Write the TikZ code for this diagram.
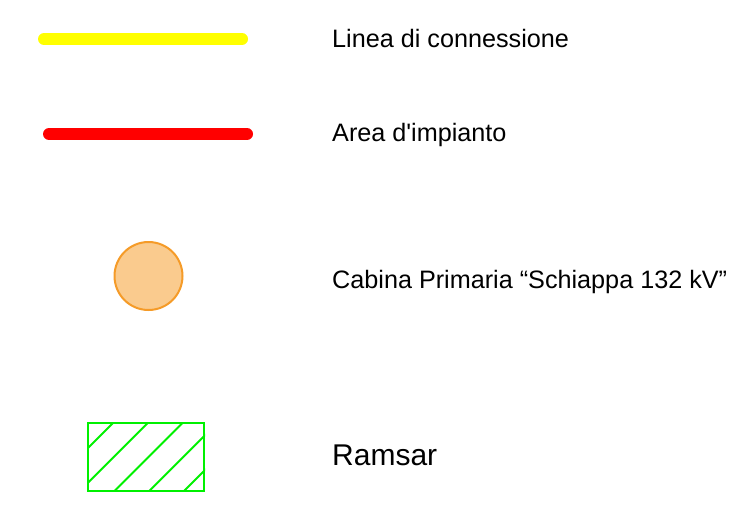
\documentclass[tikz,border=0pt]{standalone}
\usepackage{fontspec}
\setmainfont{Liberation Sans}
\newfontfamily\plainsans{Liberation Sans}
\definecolor{lineyellow}{RGB}{255,255,0}
\definecolor{areared}{RGB}{255,0,0}
\definecolor{cabfill}{RGB}{250,203,142}
\definecolor{cabdraw}{RGB}{245,155,40}
\definecolor{ramgreen}{RGB}{0,240,0}
\tikzset{
  legtext/.style={anchor=base west, inner sep=0pt, font=\plainsans\fontsize{25.2}{30}\selectfont},
  bigtext/.style={anchor=base west, inner sep=0pt, font=\plainsans\fontsize{30}{36}\selectfont},
  legline/.style={line width=12pt, line cap=round},
}
\begin{document}
\begin{tikzpicture}[x=1pt,y=-1pt]
\useasboundingbox (0,0) rectangle (741,509);
% yellow line
\coordinate (y1) at (44,39);
\coordinate (y2) at (242,39);
\draw[legline, lineyellow] (y1) -- (y2);
\node[legtext] (tyellow) at (332,47) {Linea di connessione};
% red line
\coordinate (r1) at (49,134);
\coordinate (r2) at (247,134);
\draw[legline, areared] (r1) -- (r2);
\node[legtext] (tred) at (332,141.5) {Area d'impianto};
% circle
\node[circle, minimum size=68pt, inner sep=0pt, fill=cabfill, draw=cabdraw, line width=2pt] (cab) at (148.5,276) {};
\node[legtext] (tcab) at (332,288) {Cabina Primaria “Schiappa 132 kV”};
% ramsar
\node[rectangle, minimum width=116pt, minimum height=68pt, inner sep=0pt, draw=ramgreen, line width=2pt] (ram) at (146,457) {};
\begin{scope}
\clip (ram.south west) rectangle (ram.north east);
\foreach \c in {536,570.75,605.5,640.25,675} {
  \draw[ramgreen, line width=2pt] (\c-423,423) -- (\c-491,491);
}
\end{scope}
\node[bigtext] (tram) at (332,465) {Ramsar};
\end{tikzpicture}
\end{document}
